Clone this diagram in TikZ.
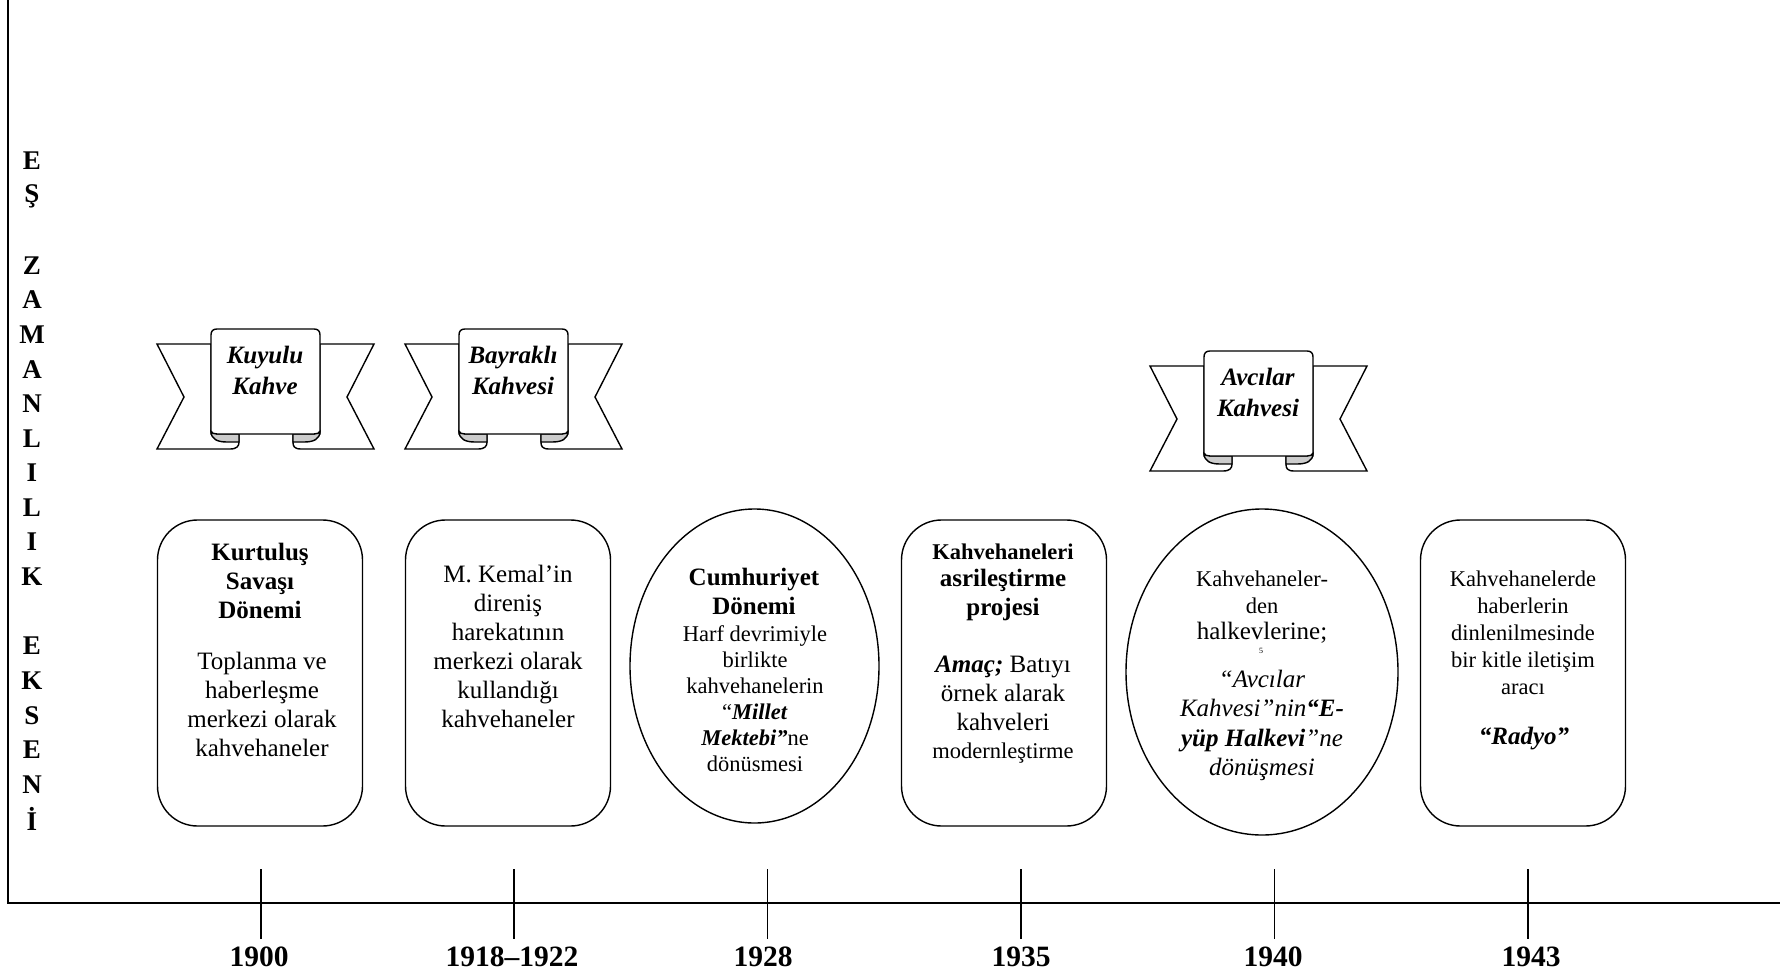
\documentclass[tikz,border=0pt]{standalone}
\usepackage{fontspec}
\setmainfont{Liberation Serif}
\usetikzlibrary{shapes.geometric}
\newcommand{\fsz}[2]{\fontsize{#1}{#2}\selectfont}
\tikzset{
  x=1pt,y=-1pt,
  line/.style={draw=black,line width=1.4pt},
  thicktick/.style={draw=black,line width=2pt},
  thintick/.style={draw=black,line width=1pt},
  rbox/.style={line,rounded corners=40pt,minimum width=205pt,minimum height=306pt,inner sep=0pt},
  oval/.style={line,ellipse,inner sep=0pt},
  txt/.style={align=center,anchor=north,inner sep=0pt},
  big/.style={txt,font=\fsz{25}{29}},
  bigb/.style={txt,font=\fsz{25}{29}\bfseries},
  bigbi/.style={txt,font=\fsz{25}{29}\bfseries\itshape},
  bigi/.style={txt,font=\fsz{25}{29.3}\itshape},
  small/.style={txt,font=\fsz{22.5}{#1}},
  smallb/.style={txt,font=\fsz{22.5}{#1}\bfseries},
  year/.style={font=\fsz{29.5}{30}\bfseries,inner sep=0pt},
  vlab/.style={font=\fsz{27}{27}\bfseries,inner sep=0pt},
  ribbonlabel/.style={align=center,font=\fsz{25}{31}\bfseries\itshape,inner sep=0pt},
  pics/ribbon/.style={code={
    % tails
    \draw[line,fill=white] (54,15) -- (0,15) -- (27,68) -- (0,120) -- (73,120)
       .. controls (80,120) and (82,117) .. (82,113) -- (82,105) -- (54,105) -- cycle;
    \draw[line,fill=white] (163,15) -- (217,15) -- (190,68) -- (217,120) -- (144,120)
       .. controls (137,120) and (136,117) .. (136,113) -- (136,105) -- (163,105) -- cycle;
    % folds
    \draw[line,fill=black!20] (54,102) .. controls (54,110) and (60,113) .. (70,113) -- (82,113) -- (82,105) -- (60,105) -- cycle;
    \draw[line,fill=black!20] (163,102) .. controls (163,110) and (157,113) .. (147,113) -- (136,113) -- (136,105) -- (157,105) -- cycle;
    % panel
    \draw[line,fill=white] (54,102) -- (54,6) .. controls (54,2) and (56,0) .. (60,0)
       -- (157,0) .. controls (161,0) and (163,2) .. (163,6) -- (163,102)
       .. controls (163,104) and (160,105) .. (157,105) -- (60,105) .. controls (57,105) and (54,104) .. (54,102) -- cycle;
  }}
}
\begin{document}
\begin{tikzpicture}
\useasboundingbox (0,0) rectangle (1787,974);
\fill[white] (0,0) rectangle (1787,974);

% axes
\coordinate (axtop) at (8,0);
\coordinate (axcorner) at (8,903);
\coordinate (axend) at (1780,903);
\draw[line] (axtop) -- (axcorner) -- (axend);

% vertical label
\foreach \n/\c/\y in {a/E/161,b/Ş/196,c/Z/266,d/A/300,e/M/335,f/A/370,g/N/404,h/L/439,i/I/473,j/L/508,k/I/542,l/K/577,m/E/646,n/K/681,o/S/716,p/E/750,q/N/785,r/İ/819}
  \node[vlab] (v\n) at (32,\y) {\c};

% ticks and years
\foreach \n/\x/\s in {1/261/thicktick,2/514/thicktick,3/767/thintick,4/1021/thicktick,5/1274/thintick,6/1528/thicktick}{
  \coordinate (ta\n) at (\x,869);
  \coordinate (tb\n) at (\x,939);
  \draw[\s] (ta\n) -- (tb\n);
}
\node[year] (y1) at (259,957) {1900};
\node[year] (y2) at (512,957) {1918–1922};
\node[year] (y3) at (763,957) {1928};
\node[year] (y4) at (1021,957) {1935};
\node[year] (y5) at (1273,957) {1940};
\node[year] (y6) at (1531,957) {1943};

% ribbons
\pic at (157,329) {ribbon};
\pic at (405,329) {ribbon};
\pic at (1150,351) {ribbon};
\node[ribbonlabel] (r1) at (265,370) {Kuyulu\\Kahve};
\node[ribbonlabel] (r2) at (513,370) {Bayraklı\\Kahvesi};
\node[ribbonlabel] (r3) at (1258,392) {Avcılar\\Kahvesi};

% boxes
\node[rbox] (b1) at (260,673) {};
\node[rbox] (b2) at (508,673) {};
\node[oval,minimum width=249pt,minimum height=314pt] (b3) at (754.5,666) {};
\node[rbox] (b4) at (1004,673) {};
\node[oval,minimum width=272pt,minimum height=326pt] (b5) at (1262,672) {};
\node[rbox] (b6) at (1523,673) {};

% box texts
\node[bigb] (x1a) at (260,543) {Kurtuluş\\Savaşı\\Dönemi};
\node[big] (x1b) at (262,652) {Toplanma ve\\haberleşme\\merkezi olarak\\kahvehaneler};
\node[big] (x2) at (508,565) {M. Kemal’in\\direniş\\harekatının\\merkezi olarak\\kullandığı\\kahvehaneler};
\node[bigb] (x3a) at (754,568) {Cumhuriyet\\Dönemi};
\node[small=26] (x3b) at (755,625) {Harf devrimiyle\\birlikte\\kahvehanelerin\\“\textbf{\textit{Millet}}\\\textbf{\textit{Mektebi”}}ne\\dönüsmesi};
\node[smallb=28] (x4a) at (1003,544) {Kahvehaneleri};
\node[bigb] (x4b) at (1003,569) {asrileştirme\\projesi};
\node[big] (x4c) at (1003,656) {\textbf{\textit{Amaç;}} Batıyı\\örnek alarak\\kahveleri};
\node[small=28] (x4d) at (1003,743) {modernleştirme};
\node[small=26.5] (x5a) at (1262,571) {Kahvehaneler-\\den};
\node[big] (x5c) at (1262,622) {halkevlerine;};
\node[font=\fsz{8}{8},inner sep=0pt] (x5n) at (1261,651) {5};
\node[bigi] (x5b) at (1262,670) {“Avcılar\\Kahvesi”nin\textbf{“E-}\\\textbf{yüp Halkevi}”ne\\dönüşmesi};
\node[small=27] (x6a) at (1523,571) {Kahvehanelerde\\haberlerin\\dinlenilmesinde\\bir kitle iletişim\\aracı};
\node[bigbi] (x6b) at (1524,727) {“Radyo”};
\end{tikzpicture}
\end{document}
